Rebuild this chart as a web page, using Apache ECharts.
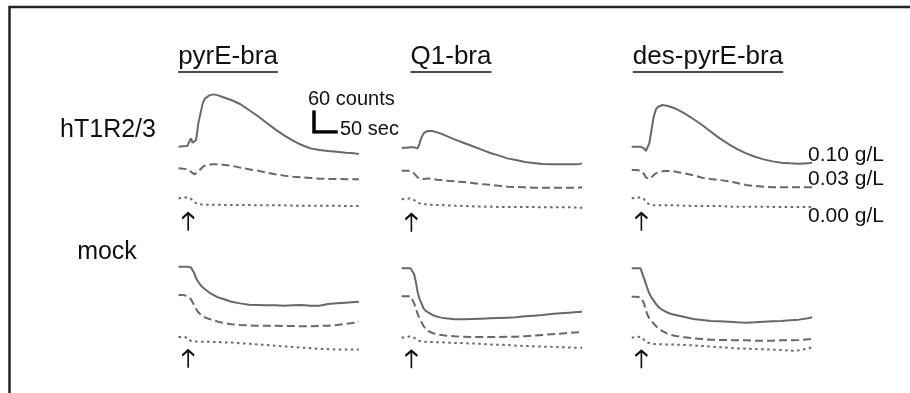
<!DOCTYPE html>
<html><head><meta charset="utf-8">
<script src="https://cdn.jsdelivr.net/npm/echarts@6/dist/echarts.min.js"></script>
<style>html,body{margin:0;padding:0;background:#fff}#c{width:910px;height:393px}</style>
</head><body><div id="c"></div>
<script>
// ---- data (time in seconds, response in counts relative to pre-stimulus baseline) ----
const time = [0,10,20,28,32,36,40,45,50,55,60,70,80,90,100,120,140,160,180,200,220,240,260,280,300,320,340,360,380,400,410];
const columns = ['pyrE-bra', 'Q1-bra', 'des-pyrE-bra'];
const rows = ['hT1R2/3', 'mock'];
const concentrations = ['0.10 g/L', '0.03 g/L', '0.00 g/L'];
const scaleCounts = 60;
const scaleSeconds = 50;
const stimulusTime = 22;

// hT1R2/3 cells
const pyrE_hT1R2_010 = [0,1,2,25,12,12,20,70,100,130,144,154,157,154,149,140,128,110,92,72,52,34,18,5,-5,-10,-13,-15,-18,-20,-22];
const pyrE_hT1R2_003 = [0,-1,-3,-10,-15,-18,-16,-10,-3,4,8,11,12,12,11,8,2,-3,-7,-13,-18,-22,-25,-27,-29,-31,-32,-32,-33,-33,-33];
const pyrE_hT1R2_000 = [0,1,3,-1,-7,-12,-16,-18,-18,-19,-19,-19,-19,-19,-20,-20,-20,-20,-21,-21,-21,-21,-22,-22,-22,-22,-22,-22,-23,-23,-23];
const Q1_hT1R2_010 = [0,0,1,1,-1,-2,11,31,43,48,50,50,46,42,36,25,15,5,-5,-15,-23,-32,-37,-43,-46,-49,-50,-50,-50,-50,-47];
const Q1_hT1R2_003 = [0,0,0,-8,-13,-20,-25,-26,-25,-24,-23,-25,-27,-28,-30,-32,-34,-37,-40,-42,-45,-48,-49,-50,-51,-51,-51,-51,-51,-51,-50];
const Q1_hT1R2_000 = [0,1,3,-2,-6,-10,-12,-14,-15,-15,-16,-16,-17,-17,-18,-19,-20,-21,-22,-22,-23,-23,-23,-23,-23,-24,-24,-24,-24,-25,-25];
const des_hT1R2_010 = [0,0,0,-5,-13,-15,10,50,90,112,120,125,123,119,114,100,83,65,45,25,8,-7,-20,-30,-38,-44,-48,-50,-51,-50,-48];
const des_hT1R2_003 = [0,0,-2,-12,-22,-28,-27,-22,-15,-10,-7,-4,-3,-3,-5,-10,-16,-23,-27,-30,-34,-39,-45,-48,-50,-52,-52,-52,-52,-52,-52];
const des_hT1R2_000 = [0,1,3,-2,-10,-16,-19,-20,-21,-21,-21,-21,-21,-21,-21,-22,-23,-23,-23,-23,-25,-25,-25,-25,-25,-26,-26,-26,-26,-26,-26];
// mock cells
const pyrE_mock_010 = [0,0,0,-2,-8,-20,-35,-45,-55,-62,-67,-78,-85,-92,-96,-105,-110,-114,-115,-116,-116,-117,-116,-115,-117,-117,-112,-110,-108,-106,-105];
const pyrE_mock_003 = [0,0,-3,-12,-22,-32,-42,-52,-58,-63,-67,-72,-76,-80,-83,-88,-90,-91,-92,-92,-92,-93,-93,-94,-94,-93,-92,-90,-87,-83,-80];
const pyrE_mock_000 = [0,0,-2,-13,-14,-14,-14,-15,-15,-15,-15,-15,-16,-16,-17,-18,-20,-22,-24,-26,-28,-30,-32,-34,-36,-38,-39,-40,-40,-40,-40];
const Q1_mock_010 = [0,0,0,-17,-40,-70,-90,-105,-121,-128,-132,-140,-145,-148,-150,-153,-153,-152,-151,-150,-149,-148,-147,-144,-142,-140,-137,-135,-133,-131,-130];
const Q1_mock_003 = [0,0,0,-20,-35,-52,-65,-78,-90,-98,-104,-110,-114,-116,-118,-120,-121,-122,-122,-122,-122,-121,-121,-120,-118,-116,-114,-112,-110,-108,-107];
const Q1_mock_000 = [0,2,4,0,-6,-9,-11,-12,-13,-13,-14,-14,-15,-15,-16,-17,-18,-19,-20,-22,-23,-24,-26,-27,-28,-29,-30,-31,-32,-33,-33];
const des_mock_010 = [0,0,0,-30,-45,-62,-75,-88,-97,-107,-115,-125,-132,-137,-140,-146,-152,-155,-158,-159,-160,-162,-163,-162,-160,-159,-158,-156,-154,-150,-147];
const des_mock_003 = [0,0,-2,-20,-40,-55,-65,-73,-80,-88,-95,-103,-110,-115,-118,-122,-125,-127,-129,-130,-130,-131,-131,-132,-132,-132,-131,-131,-130,-128,-127];
const des_mock_000 = [0,2,3,-7,-13,-16,-19,-20,-21,-21,-21,-22,-22,-22,-23,-24,-25,-27,-29,-31,-33,-35,-36,-37,-38,-39,-40,-43,-41,-36,-31];

const panels = [
  [pyrE_hT1R2_010, pyrE_hT1R2_003, pyrE_hT1R2_000],
  [Q1_hT1R2_010, Q1_hT1R2_003, Q1_hT1R2_000],
  [des_hT1R2_010, des_hT1R2_003, des_hT1R2_000],
  [pyrE_mock_010, pyrE_mock_003, pyrE_mock_000],
  [Q1_mock_010, Q1_mock_003, Q1_mock_000],
  [des_mock_010, des_mock_003, des_mock_000]
];

// ---- layout ----
const PX_PER_SEC = 0.44;
const PX_PER_COUNT = 1 / 3;
const X_MAX = 410;
const Y_MIN = -180, Y_MAX = 180;
const colLeft = [178.5, 401.7, 631.7];
const baselines = [
  [146.7, 168.3, 198.3], [147.7, 170.7, 199.3], [146.7, 170, 198.3],
  [266.7, 295, 341], [268.3, 296.3, 342.3], [268.3, 296.7, 342.3]
];
const arrowOffset = -70;
const traceColor = '#686868';
const lineTypes = ['solid', [8, 4], [2.5, 3.5]];
const FONT = 'Liberation Sans, Arial, sans-serif';

const grid = [], xAxis = [], yAxis = [], series = [];
panels.forEach((traces, p) => {
  const col = p % 3;
  traces.forEach((vals, k) => {
    const gi = grid.length;
    grid.push({
      left: colLeft[col],
      top: baselines[p][k] - Y_MAX * PX_PER_COUNT,
      width: X_MAX * PX_PER_SEC,
      height: (Y_MAX - Y_MIN) * PX_PER_COUNT
    });
    xAxis.push({ type: 'value', gridIndex: gi, min: 0, max: X_MAX, show: false });
    yAxis.push({ type: 'value', gridIndex: gi, min: Y_MIN, max: Y_MAX, show: false });
    const s = {
      type: 'line', xAxisIndex: gi, yAxisIndex: gi, showSymbol: false, silent: true,
      data: time.map((t, i) => [t, vals[i]]),
      lineStyle: { color: traceColor, width: 2, type: lineTypes[k], cap: 'butt' }
    };
    if (k === 2) {
      s.markPoint = {
        silent: true, animation: false,
        symbol: 'path://M6,0 L6,22 M0.5,7 L6,0.5 L11.5,7',
        symbolSize: [12, 18], symbolKeepAspect: false,
        itemStyle: { color: 'rgba(0,0,0,0)', borderColor: '#111', borderWidth: 2 },
        label: { show: false },
        data: [{ coord: [stimulusTime, arrowOffset] }]
      };
    }
    series.push(s);
  });
});

// scale bar grid
const sbi = grid.length;
grid.push({ left: 314, top: 112, width: scaleSeconds * PX_PER_SEC, height: scaleCounts * PX_PER_COUNT });
xAxis.push({ type: 'value', gridIndex: sbi, min: 0, max: scaleSeconds, show: false });
yAxis.push({ type: 'value', gridIndex: sbi, min: 0, max: scaleCounts, show: false });
series.push({
  type: 'line', xAxisIndex: sbi, yAxisIndex: sbi, showSymbol: false, silent: true,
  data: [[0, scaleCounts], [0, 0], [scaleSeconds, 0]],
  lineStyle: { color: '#000', width: 3.5, cap: 'square', join: 'miter' }
});

// text measurement for underlines
const ctx = document.createElement('canvas').getContext('2d');
function textWidth(str, size) { ctx.font = size + 'px ' + FONT; return ctx.measureText(str).width; }

const graphic = [];
graphic.push({ type: 'polyline', silent: true, shape: { points: [[9.5, 393], [9.5, 7], [910, 7]] },
  style: { stroke: '#222', lineWidth: 2.5, fill: null } });

const titleX = [228, 451, 708];
const TITLE_SIZE = 26;
columns.forEach((c, i) => {
  const w = textWidth(c, TITLE_SIZE);
  graphic.push({ type: 'text', x: titleX[i], y: 57, silent: true,
    style: { text: c, font: TITLE_SIZE + 'px ' + FONT, fill: '#111', align: 'center', verticalAlign: 'middle' } });
  graphic.push({ type: 'line', silent: true, shape: { x1: titleX[i] - w / 2, y1: 72, x2: titleX[i] + w / 2, y2: 72 },
    style: { stroke: '#111', lineWidth: 1.6 } });
});
const rowY = [130, 252];
const rowX = [108, 107];
rows.forEach((r, i) => {
  graphic.push({ type: 'text', x: rowX[i], y: rowY[i], silent: true,
    style: { text: r, font: '25px ' + FONT, fill: '#111', align: 'center', verticalAlign: 'middle' } });
});
const concY = [155, 179, 216];
concentrations.forEach((c, i) => {
  graphic.push({ type: 'text', x: 808, y: concY[i], silent: true,
    style: { text: c, font: '21px ' + FONT, fill: '#111', align: 'left', verticalAlign: 'middle' } });
});
graphic.push({ type: 'text', x: 308, y: 99, silent: true,
  style: { text: scaleCounts + ' counts', font: '20px ' + FONT, fill: '#111', align: 'left', verticalAlign: 'middle' } });
graphic.push({ type: 'text', x: 340, y: 129, silent: true,
  style: { text: scaleSeconds + ' sec', font: '20px ' + FONT, fill: '#111', align: 'left', verticalAlign: 'middle' } });

const chart = echarts.init(document.getElementById('c'), null, { renderer: 'canvas' });
chart.setOption({ animation: false, backgroundColor: '#fff', grid, xAxis, yAxis, series, graphic });
</script></body></html>
